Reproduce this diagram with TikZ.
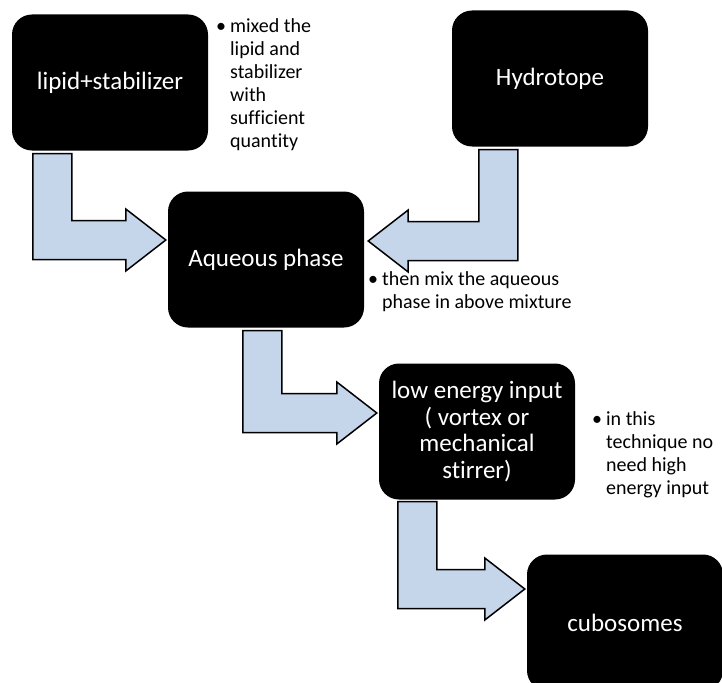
\documentclass[tikz,border=0pt]{standalone}
\usepackage{fontspec}
\setmainfont{Carlito}[Ligatures=CommonOff]
\usepackage{xcolor}
\usepackage{tikz}
\usetikzlibrary{calc}
\definecolor{boxfill}{HTML}{000000}
\definecolor{arrowfill}{HTML}{C5D5EA}
\tikzset{
  box/.style={fill=boxfill, text=white, rounded corners=20pt, minimum width=196pt,
    minimum height=136pt, align=center, inner sep=4pt, font=\fontsize{25}{26.5}\selectfont},
  bentarr/.style={draw=black, line width=1.5pt, fill=arrowfill, line join=miter},
  note/.style={anchor=north west, inner sep=0pt, font=\fontsize{20}{23}\selectfont}
}
% bent block arrow: stem top corner, tip, direction (1 right, -1 left)
\newcommand{\bentarrow}[3]{%
  \draw[bentarr] (#1) -- ($(#1)+({#3*39},0)$) -- ($(#1 |- #2)+({#3*39},-19.5)$)
    -- ($(#2)+({#3*(-40)},-19.5)$) -- ($(#2)+({#3*(-40)},-31)$) -- (#2)
    -- ($(#2)+({#3*(-40)},31)$) -- ($(#2)+({#3*(-40)},19.5)$)
    -- ($(#1 |- #2)+(0,19.5)$) -- cycle;}
\newcommand{\bulletnote}[1]{\begin{tabular}{@{}l@{\hspace{4pt}}l@{}}#1\end{tabular}}

\begin{document}
\begin{tikzpicture}[x=1pt, y=-1pt]
  \useasboundingbox (0,0) rectangle (722,682);
  \fill[white] (0,0) rectangle (722,682);
  \clip (0,0) rectangle (722,682);

  \node[box] (lipid) at (110,82.5) {lipid+stabilizer};
  \node[box] (hydro) at (550,78.5) {Hydrotope};
  \node[box] (aqueous) at (266,259.5) {Aqueous phase};
  \node[box] (lowe) at (477,431.5) {low energy input\\( vortex or\\mechanical\\stirrer)};
  \node[box] (cubo) at (625,622.5) {cubosomes};

  \coordinate (s1) at ($(lipid.south west)+(21,3)$);
  \coordinate (t1) at ($(aqueous.west)+(-2,-19.5)$);
  \coordinate (s2) at ($(hydro.south west)+(66,3)$);
  \coordinate (t2) at ($(aqueous.east)+(4,-18.5)$);
  \coordinate (s3) at ($(aqueous.south west)+(75,3)$);
  \coordinate (t3) at ($(lowe.west)+(-2,-18.5)$);
  \coordinate (s4) at ($(lowe.south west)+(19,2)$);
  \coordinate (t4) at ($(cubo.west)+(-2,-33.5)$);

  \bentarrow{s1}{t1}{1}
  \bentarrow{s2}{t2}{-1}
  \bentarrow{s3}{t3}{1}
  \bentarrow{s4}{t4}{1}

  \node[note] (noteA) at (216,16) {\bulletnote{\textbullet & mixed the\\ & lipid and\\ & stabilizer\\ & with\\ & sufficient\\ & quantity}};
  \node[note] (noteB) at (368,269) {\bulletnote{\textbullet & then mix the aqueous\\ & phase in above mixture}};
  \node[note] (noteC) at (592,409) {\bulletnote{\textbullet & in this\\ & technique no\\ & need high\\ & energy input}};
\end{tikzpicture}
\end{document}
